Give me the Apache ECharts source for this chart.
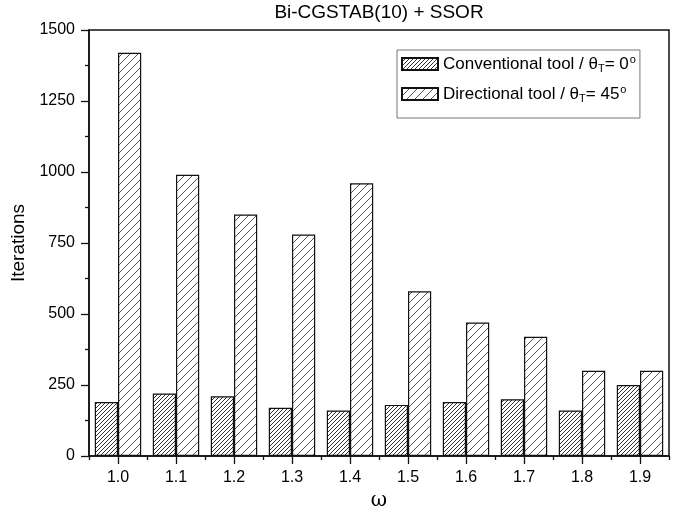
<!DOCTYPE html>
<html>
<head>
<meta charset="utf-8">
<script src="https://cdn.jsdelivr.net/npm/echarts@6/dist/echarts.min.js"></script>
<style>html,body{margin:0;padding:0;background:#fff}#c{width:682px;height:509px}</style>
</head>
<body>
<div id="c"></div>
<script>
// ---- data ----
var categories = ['1.0','1.1','1.2','1.3','1.4','1.5','1.6','1.7','1.8','1.9'];
var conventional = [190, 220, 210, 170, 160, 180, 190, 200, 160, 250];
var directional = [1420, 990, 850, 780, 960, 580, 470, 420, 300, 300];
var seriesNames = ['Conventional tool', 'Directional tool'];
var toolAngles = ['0', '45'];
var yTicks = [0, 250, 500, 750, 1000, 1250, 1500];

function makeHatch(s, color, lw) {
  var c = document.createElement('canvas');
  c.width = s; c.height = s;
  var g = c.getContext('2d');
  g.fillStyle = '#fff';
  g.fillRect(0, 0, s, s);
  g.strokeStyle = color;
  g.lineWidth = lw;
  g.beginPath();
  g.moveTo(-1, 1); g.lineTo(1, -1);
  g.moveTo(0, s); g.lineTo(s, 0);
  g.moveTo(s - 1, s + 1); g.lineTo(s + 1, s - 1);
  g.stroke();
  return c;
}

var FONT = "'Liberation Sans', Arial, sans-serif";
var chart = echarts.init(document.getElementById('c'), null, {renderer: 'canvas'});
var fullNames = seriesNames.map(function (n, i) { return n + ' / θT= ' + toolAngles[i]; });

chart.setOption({
  animation: false,
  backgroundColor: '#fff',
  textStyle: {fontFamily: FONT},
  title: {
    text: 'Bi-CGSTAB(10) + SSOR',
    left: 379, top: 3, padding: 0, textAlign: 'center',
    textStyle: {fontSize: 19, fontWeight: 'normal', color: '#000', fontFamily: FONT}
  },
  legend: {
    left: 397, top: 50,
    orient: 'vertical',
    padding: [4, 4, 14, 4],
    itemGap: 10,
    itemWidth: 36, itemHeight: 12,
    borderColor: '#777', borderWidth: 1,
    icon: 'rect',
    data: fullNames,
    formatter: function (name) {
      var i = fullNames.indexOf(name);
      return '{a|' + seriesNames[i] + ' / θ}{sub|T}{a|= ' + toolAngles[i] + '}{sup|o}';
    },
    textStyle: {
      fontSize: 17, color: '#000', fontFamily: FONT, lineHeight: 20,
      rich: {
        a: {fontSize: 17, color: '#000', fontFamily: FONT, lineHeight: 20},
        sub: {fontSize: 11, color: '#000', fontFamily: FONT, lineHeight: 12, padding: [9, 0, 0, 0]},
        sup: {fontSize: 11, color: '#000', fontFamily: FONT, lineHeight: 12, padding: [0, 0, 8, 1]}
      }
    }
  },
  grid: {
    left: 89, right: 13, top: 30, bottom: 53,
    outerBoundsMode: 'none',
    show: true, borderColor: '#111', borderWidth: 1.5, backgroundColor: 'transparent',
    containLabel: false
  },
  xAxis: [{
    type: 'category',
    data: categories,
    name: 'ω', nameLocation: 'middle', nameGap: 27,
    nameTextStyle: {fontSize: 20, color: '#000', fontFamily: "'DejaVu Serif', serif"},
    axisLine: {lineStyle: {color: '#111', width: 1.5}},
    axisTick: {show: true, alignWithLabel: true, length: 8, inside: false, lineStyle: {color: '#111', width: 1.3}},
    axisLabel: {fontSize: 16, color: '#000', margin: 14, fontFamily: FONT},
    splitLine: {show: false}
  }, {
    type: 'category',
    data: categories,
    position: 'bottom',
    axisLine: {show: false},
    axisTick: {show: true, alignWithLabel: false, length: 4, lineStyle: {color: '#111', width: 1.3}},
    axisLabel: {show: false},
    splitLine: {show: false}
  }],
  yAxis: {
    type: 'value',
    min: yTicks[0], max: yTicks[yTicks.length - 1], interval: 250,
    name: 'Iterations', nameLocation: 'middle', nameGap: 53,
    nameTextStyle: {fontSize: 19, color: '#000', fontFamily: FONT},
    axisLine: {show: true, lineStyle: {color: '#111', width: 1.5}},
    axisTick: {show: true, length: 8, lineStyle: {color: '#111', width: 1.3}},
    minorTick: {show: true, splitNumber: 2, length: 4, lineStyle: {color: '#111', width: 1.3}},
    axisLabel: {fontSize: 16, color: '#000', margin: 14, fontFamily: FONT,
      formatter: function (v) { return String(v); }},
    splitLine: {show: false}
  },
  series: [{
    name: fullNames[0],
    type: 'bar',
    data: conventional,
    barGap: '0%', barCategoryGap: '20%',
    itemStyle: {color: {image: makeHatch(4, '#333', 1), repeat: 'repeat'}, borderColor: '#111', borderWidth: 1.2}
  }, {
    name: fullNames[1],
    type: 'bar',
    data: directional,
    barGap: '0%', barCategoryGap: '20%',
    itemStyle: {color: {image: makeHatch(8, '#555', 1), repeat: 'repeat'}, borderColor: '#111', borderWidth: 1.2}
  }]
});
</script>
</body>
</html>
